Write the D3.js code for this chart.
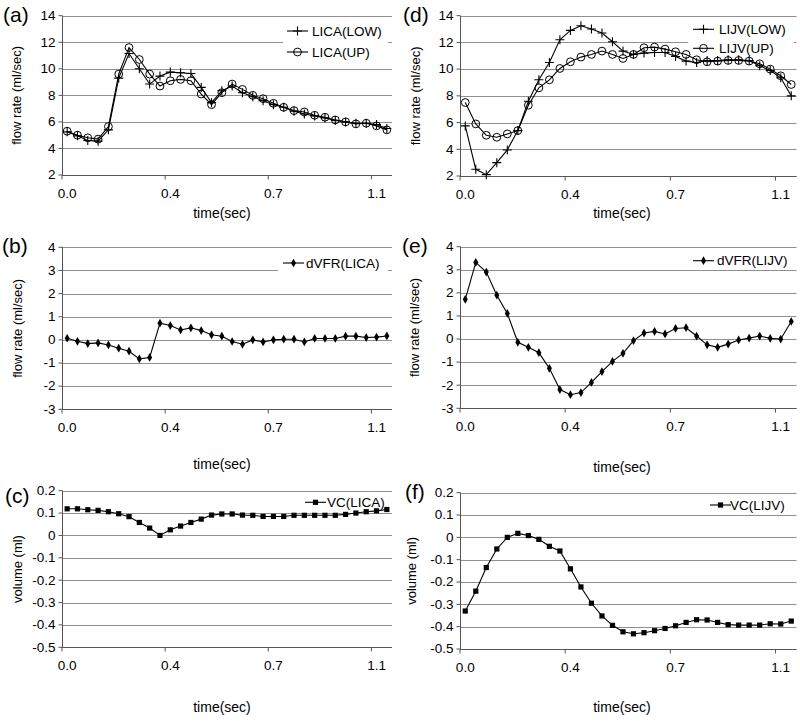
<!DOCTYPE html>
<html><head><meta charset="utf-8">
<script src="https://cdn.jsdelivr.net/npm/d3@7"></script>
<style>
html,body{margin:0;padding:0;background:#fff;}
svg{display:block;font-family:"Liberation Sans",Arial,sans-serif;}
</style></head>
<body>
<svg id="c" width="800" height="723"></svg>
<script>
// ---- data (32 samples per cardiac cycle) ----
const N = 32;
const tickIdx = [0, 10, 20, 30];
const timeLabels = ["0.0", "0.4", "0.7", "1.1"];

const licaLow = [5.25,4.95,4.6,4.55,5.4,9.3,11.15,10.0,8.85,9.45,9.75,9.7,9.65,8.6,7.45,8.35,8.7,8.2,7.9,7.6,7.3,7.1,6.8,6.6,6.45,6.3,6.1,6.0,5.9,5.9,5.8,5.5];
const licaUp  = [5.3,5.0,4.8,4.7,5.65,9.6,11.6,10.7,9.6,8.7,9.1,9.2,9.1,8.1,7.3,8.2,8.85,8.45,8.0,7.75,7.4,7.1,6.85,6.75,6.5,6.35,6.15,6.0,5.85,5.9,5.7,5.4];
const lijvLow = [5.75,2.5,2.1,3.0,3.95,5.4,7.6,9.2,10.5,12.2,12.9,13.25,13.0,12.7,12.05,11.35,11.1,11.2,11.25,11.25,10.95,10.6,10.5,10.65,10.65,10.7,10.7,10.65,10.25,9.9,9.35,8.0];
const lijvUp  = [7.5,5.9,5.05,4.9,5.15,5.4,7.3,8.6,9.2,10.05,10.55,10.9,11.1,11.35,11.1,10.8,11.1,11.6,11.65,11.5,11.3,11.1,10.7,10.55,10.6,10.65,10.65,10.6,10.4,10.0,9.5,8.85];
const dvfrLica = [0.07,-0.06,-0.16,-0.13,-0.22,-0.36,-0.49,-0.82,-0.76,0.72,0.62,0.43,0.52,0.4,0.22,0.16,-0.07,-0.19,0.0,-0.09,0.0,0.03,0.03,-0.09,0.06,0.06,0.06,0.16,0.16,0.1,0.12,0.17];
const dvfrLijv = [1.72,3.32,2.9,1.9,1.11,-0.14,-0.36,-0.59,-1.27,-2.19,-2.41,-2.32,-1.88,-1.41,-0.97,-0.62,-0.07,0.26,0.33,0.22,0.46,0.49,0.13,-0.25,-0.36,-0.22,-0.04,0.04,0.13,0.03,0.0,0.76];
const vcLica = [0.119,0.119,0.115,0.112,0.106,0.097,0.084,0.058,0.033,0.0,0.025,0.042,0.058,0.073,0.091,0.096,0.096,0.091,0.09,0.085,0.085,0.085,0.09,0.09,0.09,0.09,0.09,0.094,0.1,0.106,0.11,0.116];
const vcLijv = [-0.33,-0.241,-0.135,-0.052,0.0,0.018,0.008,-0.009,-0.04,-0.061,-0.141,-0.222,-0.295,-0.352,-0.394,-0.423,-0.432,-0.427,-0.418,-0.408,-0.396,-0.381,-0.369,-0.37,-0.381,-0.391,-0.393,-0.393,-0.393,-0.387,-0.388,-0.375];

const flowTicks = [2,4,6,8,10,12,14];
const dvfrTicks = [-3,-2,-1,0,1,2,3,4];
const volTicks  = [-0.5,-0.4,-0.3,-0.2,-0.1,0,0.1,0.2];

// ---- layout ----
const L = {x0:62, x1:392}, R = {x0:460, x1:796.5};
const panels = [
  {tag:"(a)", col:L, y0:15.7, y1:175, ticks:flowTicks, fmt:d=>String(d), ytitle:"flow rate (ml/sec)",
   series:[{name:"LICA(LOW)", v:licaLow, m:"plus"},{name:"LICA(UP)", v:licaUp, m:"circle"}],
   leg:{box:[283,20,105,42], lx:287, tx:312, ys:[31,52]}, tagPos:[3,22], ytx:16, xt:[222,213]},
  {tag:"(b)", col:L, y0:247.3, y1:409.3, ticks:dvfrTicks, fmt:d=>String(d), ytitle:"flow rate (ml/sec)",
   series:[{name:"dVFR(LICA)", v:dvfrLica, m:"diamond"}],
   leg:{box:[278,250,110,27], lx:283, tx:306, ys:[263]}, tagPos:[2,253], ytx:17, xt:[222,464]},
  {tag:"(c)", col:L, y0:490.7, y1:647.3, ticks:volTicks, fmt:d=>d===0?"0":d.toFixed(1), ytitle:"volume (ml)",
   series:[{name:"VC(LICA)", v:vcLica, m:"square"}],
   leg:{box:[302,493,90,18], lx:305, tx:327, ys:[502.3]}, tagPos:[5,503], ytx:17, xt:[222,707]},
  {tag:"(d)", col:R, y0:15.7, y1:176, ticks:flowTicks, fmt:d=>String(d), ytitle:"flow rate (ml/sec)",
   series:[{name:"LIJV(LOW)", v:lijvLow, m:"plus"},{name:"LIJV(UP)", v:lijvUp, m:"circle"}],
   leg:{box:[688,19,106,40], lx:693, tx:719, ys:[29.3,48.3]}, tagPos:[403,22], ytx:415, xt:[622,213]},
  {tag:"(e)", col:R, y0:246.7, y1:408.3, ticks:dvfrTicks, fmt:d=>String(d), ytitle:"flow rate (ml/sec)",
   series:[{name:"dVFR(LIJV)", v:dvfrLijv, m:"diamond"}],
   leg:{box:[688,250,106,19], lx:693, tx:717, ys:[260.7]}, tagPos:[402,253], ytx:414, xt:[622,467]},
  {tag:"(f)", col:R, y0:492.7, y1:649, ticks:volTicks, fmt:d=>d===0?"0":d.toFixed(1), ytitle:"volume (ml)",
   series:[{name:"VC(LIJV)", v:vcLijv, m:"square"}],
   leg:{box:[706,496,90,18], lx:710, tx:730, ys:[505]}, tagPos:[405,499], ytx:411, xt:[622,707]},
];

const svg = d3.select("#c");
const GRID = "#8f8f8f", AXIS = "#555";

function marker(g, type, x, y) {
  if (type === "plus") {
    g.append("path").attr("d", `M${x-4.5},${y}H${x+4.5}M${x},${y-4.5}V${y+4.5}`)
      .attr("stroke", "#000").attr("stroke-width", 1.1).attr("fill", "none");
  } else if (type === "circle") {
    g.append("circle").attr("cx", x).attr("cy", y).attr("r", 3.9)
      .attr("stroke", "#000").attr("stroke-width", 1).attr("fill", "none");
  } else if (type === "diamond") {
    g.append("path").attr("d", d3.symbol(d3.symbolDiamond, 22)()).attr("transform", `translate(${x},${y})`).attr("fill", "#000");
  } else if (type === "square") {
    g.append("rect").attr("x", x-2.6).attr("y", y-2.6).attr("width", 5.2).attr("height", 5.2).attr("fill", "#000");
  }
}

panels.forEach(p => {
  const x = d3.scaleLinear().domain([-0.5, N - 0.5]).range([p.col.x0, p.col.x1]);
  const y = d3.scaleLinear().domain([p.ticks[0], p.ticks[p.ticks.length-1]]).range([p.y1, p.y0]);
  const g = svg.append("g");

  // gridlines
  g.append("g").selectAll("line").data(p.ticks).join("line")
    .attr("x1", p.col.x0).attr("x2", p.col.x1)
    .attr("y1", d => Math.round(y(d)) + 0.5).attr("y2", d => Math.round(y(d)) + 0.5)
    .attr("stroke", GRID).attr("stroke-width", 1);

  // y axis
  const ya = g.append("g").attr("transform", `translate(${Math.round(p.col.x0)+0.5},0)`)
    .call(d3.axisLeft(y).tickValues(p.ticks).tickFormat(p.fmt).tickSize(4).tickPadding(3).offset(0));
  ya.select(".domain").attr("stroke", AXIS).attr("d", `M0,${p.y0}V${p.y1}`);
  ya.selectAll(".tick line").attr("stroke", AXIS);
  ya.selectAll("text").attr("font-size", 13.5).attr("fill", "#000").attr("font-family", "Liberation Sans, Arial, sans-serif");

  // x axis line + tick marks at category boundaries
  const by = Math.round(p.y1) + 0.5;
  const xa = g.append("g").attr("transform", `translate(0,${by})`)
    .call(d3.axisBottom(x).tickValues(tickIdx.map(i => i - 0.5)).tickFormat("").tickSize(4).offset(0));
  xa.select(".domain").attr("stroke", AXIS).attr("d", `M${p.col.x0},0H${p.col.x1}`);
  xa.selectAll(".tick line").attr("stroke", AXIS);
  // x tick labels centered on categories
  const xl = g.append("g").attr("transform", `translate(0,${by})`)
    .call(d3.axisBottom(x).tickValues(tickIdx).tickFormat((d, i) => timeLabels[i]).tickSize(0).tickPadding(13).offset(0));
  xl.select(".domain").remove();
  xl.selectAll("text").attr("font-size", 13.5).attr("fill", "#000").attr("font-family", "Liberation Sans, Arial, sans-serif");

  // legend background
  g.append("rect").attr("x", p.leg.box[0]).attr("y", p.leg.box[1]).attr("width", p.leg.box[2]).attr("height", p.leg.box[3]).attr("fill", "#fff");

  // series
  const line = d3.line().x((d, i) => x(i)).y(d => y(d));
  p.series.forEach((s, si) => {
    const sg = g.append("g");
    sg.append("path").attr("d", line(s.v)).attr("fill", "none").attr("stroke", "#000").attr("stroke-width", 1.1);
    s.v.forEach((v, i) => marker(sg, s.m, x(i), y(v)));
    // legend
    const ly = p.leg.ys[si];
    g.append("line").attr("x1", p.leg.lx).attr("x2", p.leg.lx + 21).attr("y1", ly).attr("y2", ly)
      .attr("stroke", "#000").attr("stroke-width", 1.1);
    marker(g, s.m, p.leg.lx + 10.5, ly);
    g.append("text").attr("x", p.leg.tx).attr("y", ly).attr("dominant-baseline", "central")
      .attr("font-size", 13.5).text(s.name);
  });

  // titles
  g.append("text").attr("transform", `translate(${p.ytx},${(p.y0 + p.y1) / 2}) rotate(-90)`)
    .attr("text-anchor", "middle").attr("dominant-baseline", "central").attr("font-size", 13).text(p.ytitle);
  g.append("text").attr("x", p.xt[0]).attr("y", p.xt[1]).attr("text-anchor", "middle")
    .attr("dominant-baseline", "central").attr("font-size", 14).text("time(sec)");
  g.append("text").attr("x", p.tagPos[0]).attr("y", p.tagPos[1]).attr("font-size", 21).text(p.tag);
});
</script>
</body></html>
